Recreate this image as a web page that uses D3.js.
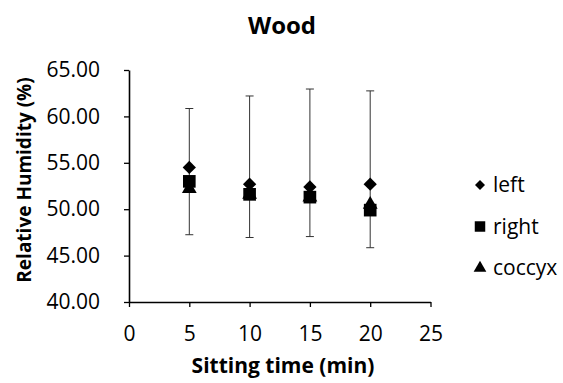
<!DOCTYPE html>
<html lang="en">
<head>
<meta charset="UTF-8">
<title>Wood</title>
<script src="https://d3js.org/d3.v7.min.js"></script>
<style>
  body { margin: 0; background: #fff; }
  text { font-family: "Open Sans", sans-serif; fill: #000; }
  .axis-title { font-weight: bold; }
  .chart-title { font-size: 24px; font-weight: bold; }
  .legend-label { font-size: 21px; }
</style>
</head>
<body>
<svg id="chart"></svg>
<script>
// data
var times = [5, 10, 15, 20];
var left = [54.5, 52.7, 52.4, 52.7];
var right = [53.0, 51.6, 51.3, 49.9];
var coccyx = [52.2, 51.6, 51.3, 50.5];
var errTop = [60.85, 62.2, 62.95, 62.75];
var errBottom = [47.25, 46.95, 47.05, 45.85];
var xTicks = [0, 5, 10, 15, 20, 25];
var yTicks = [40, 45, 50, 55, 60, 65];

var width = 563, height = 383;
var svg = d3.select("#chart").attr("width", width).attr("height", height);

var x = d3.scaleLinear().domain([0, 25]).range([129, 430.5]);
var y = d3.scaleLinear().domain([40, 65]).range([302, 70]);

// axes
var xAxis = svg.append("g").attr("transform", "translate(0," + y(40) + ")")
  .call(d3.axisBottom(x).tickValues(xTicks).tickSize(5).tickSizeOuter(0).tickPadding(19));
var yAxis = svg.append("g").attr("transform", "translate(" + x(0) + ",0)")
  .call(d3.axisLeft(y).tickValues(yTicks).tickSize(5).tickSizeOuter(0).tickPadding(24)
    .tickFormat(d3.format(".2f")));

[xAxis, yAxis].forEach(function(a) {
  a.select(".domain").attr("stroke", "#000").attr("stroke-width", 1.6);
  a.selectAll(".tick line").attr("stroke", "#000").attr("stroke-width", 1.3);
  a.selectAll(".tick text").attr("fill", "#000")
    .style("font-family", "'Open Sans', sans-serif").style("font-size", "21px");
});

// error bars
var eb = svg.append("g");
times.forEach(function(t, i) {
  eb.append("line").attr("x1", x(t)).attr("x2", x(t))
    .attr("y1", y(errTop[i])).attr("y2", y(errBottom[i]))
    .attr("stroke", "#333").attr("stroke-width", 1);
  [errTop[i], errBottom[i]].forEach(function(v) {
    eb.append("line").attr("x1", x(t) - 4).attr("x2", x(t) + 4)
      .attr("y1", y(v)).attr("y2", y(v))
      .attr("stroke", "#333").attr("stroke-width", 1);
  });
});

// markers
var diamond = d3.symbol().type(d3.symbolSquare).size(88)();
var square = d3.symbol().type(d3.symbolSquare).size(160)();
var triangle = d3.symbol().type(d3.symbolTriangle).size(95)();

var series = [
  { name: "left", values: left, path: diamond, rot: 45 },
  { name: "coccyx", values: coccyx, path: triangle, rot: 0 },
  { name: "right", values: right, path: square, rot: 0 }
];

series.forEach(function(s) {
  svg.append("g").selectAll("path")
    .data(times)
    .enter()
    .append("path")
    .attr("d", s.path)
    .attr("fill", "#000")
    .attr("transform", function(d, i) {
      return "translate(" + x(d) + "," + y(s.values[i]) + ") rotate(" + s.rot + ")";
    });
});

// legend
var legendItems = [
  { name: "left", path: d3.symbol().type(d3.symbolSquare).size(50)(), rot: 45 },
  { name: "right", path: d3.symbol().type(d3.symbolSquare).size(110)(), rot: 0 },
  { name: "coccyx", path: d3.symbol().type(d3.symbolTriangle).size(70)(), rot: 0 }
];
var legend = svg.append("g").attr("transform", "translate(480,185)");
legendItems.forEach(function(d, i) {
  var g = legend.append("g").attr("transform", "translate(0," + i * 41.5 + ")");
  g.append("path").attr("d", d.path).attr("fill", "#000")
    .attr("transform", "rotate(" + d.rot + ")");
  g.append("text").attr("class", "legend-label").attr("x", 13).attr("dy", "0.35em").text(d.name);
});

// titles
svg.append("text").attr("class", "chart-title").attr("x", 282).attr("y", 34)
  .attr("text-anchor", "middle").text("Wood");
svg.append("text").attr("class", "axis-title").style("font-size", "21px")
  .attr("x", 283).attr("y", 373)
  .attr("text-anchor", "middle").text("Sitting time (min)");
svg.append("text").attr("class", "axis-title").style("font-size", "19px")
  .attr("transform", "translate(31,180) rotate(-90)")
  .attr("text-anchor", "middle").text("Relative Humidity (%)");
</script>
</body>
</html>
